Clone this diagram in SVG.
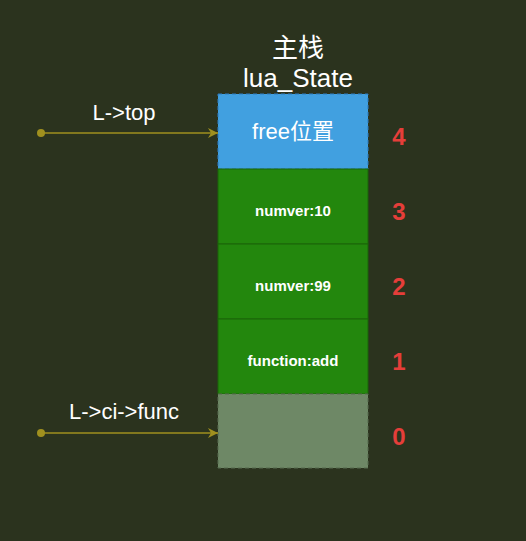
<svg xmlns="http://www.w3.org/2000/svg" width="526" height="541" viewBox="0 0 526 541">
<style>
.t{font-family:"Liberation Sans",Arial,"Noto Sans CJK SC",sans-serif;fill:#ffffff;text-anchor:middle}
.cell{font-size:15px;font-weight:bold}
.num{font-family:"Liberation Sans",Arial,sans-serif;font-size:24px;font-weight:bold;fill:#E53E3A;text-anchor:middle}
.ln{stroke:#A0901F;stroke-width:1.5;fill:none}
</style>
<defs>
<marker id="ah" markerWidth="12" markerHeight="10" refX="10" refY="5" orient="auto" markerUnits="userSpaceOnUse">
<path d="M0,0 L10,5 L0,10 L3,5 Z" fill="#A0901F"/>
</marker>
</defs>
<rect width="526" height="541" fill="#2B331E"/>
<g id="title">
<text class="t" x="298" y="57" style="font-size:26px">主栈</text>
<text class="t" x="298" y="87" style="font-size:26px">lua_State</text>
</g>
<g id="cell4">
<rect x="218" y="94" width="150" height="75" fill="#41A0E0" stroke="#2E7CC0" stroke-dasharray="4 3"/>
<text class="t" x="293" y="139" style="font-size:22px">free位置</text>
</g>
<g id="cell3">
<rect x="218" y="169" width="150" height="75" fill="#23870D" stroke="#1A6508"/>
<text class="t cell" x="293" y="216">numver:10</text>
</g>
<g id="cell2">
<rect x="218" y="244" width="150" height="75" fill="#23870D" stroke="#1A6508"/>
<text class="t cell" x="293" y="291">numver:99</text>
</g>
<g id="cell1">
<rect x="218" y="319" width="150" height="75" fill="#23870D" stroke="#1A6508"/>
<text class="t cell" x="293" y="366">function:add</text>
</g>
<g id="cell0">
<rect x="218" y="394" width="150" height="74" fill="#6E8866" stroke="#566A4F" stroke-dasharray="4 3"/>
</g>
<g id="indices">
<text class="num" x="399" y="145">4</text>
<text class="num" x="399" y="220">3</text>
<text class="num" x="399" y="295">2</text>
<text class="num" x="399" y="370">1</text>
<text class="num" x="399" y="445">0</text>
</g>
<g id="connectors">
<circle cx="41" cy="133" r="4" fill="#A0901F"/>
<line class="ln" x1="41" y1="133" x2="218" y2="133" marker-end="url(#ah)"/>
<text class="t" x="124" y="120" style="font-size:22px">L-&gt;top</text>
<circle cx="41" cy="433" r="4" fill="#A0901F"/>
<line class="ln" x1="41" y1="433" x2="218" y2="433" marker-end="url(#ah)"/>
<text class="t" x="124" y="419" style="font-size:22px">L-&gt;ci-&gt;func</text>
</g>
</svg>
